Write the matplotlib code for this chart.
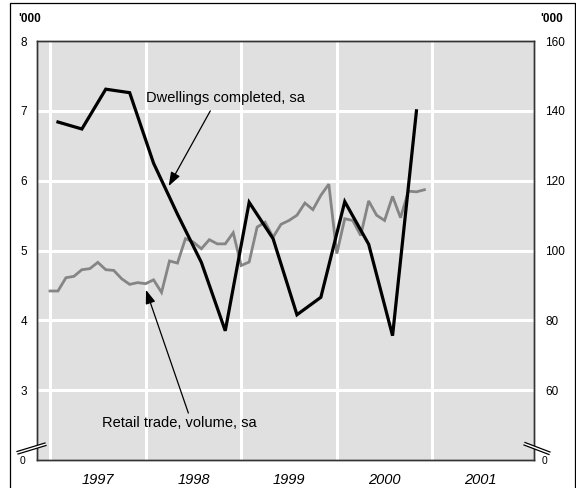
import numpy as np
import pandas as pd
import matplotlib
matplotlib.use('Agg')
import matplotlib.pyplot as plt
from matplotlib.lines import Line2D
from matplotlib.patches import Polygon

plt.rcParams['font.family'] = ['Liberation Sans', 'DejaVu Sans']

# Dwellings completed, sa ('000, quarterly, left axis)
dwell_dates = pd.date_range('1997-02-01', periods=16, freq='3MS')
dwellings = [6.84, 6.74, 7.31, 7.26, 6.25, 5.52, 4.83, 3.85,
             5.69, 5.17, 4.08, 4.33, 5.70, 5.09, 3.78, 7.00]

# Retail trade, volume, sa (monthly, right axis)
retail_dates = pd.date_range('1997-01-01', periods=48, freq='MS')
retail = [88.4, 88.4, 92.2, 92.6, 94.5, 94.8, 96.6, 94.5, 94.3, 91.9, 90.3, 90.8,
          90.5, 91.6, 88.0, 97.0, 96.4, 103.4, 102.4, 100.5, 103.1, 101.9, 101.9, 105.1,
          95.7, 96.7, 106.7, 108.1, 103.8, 107.5, 108.6, 110.1, 113.6, 111.7, 115.8, 119.0,
          99.1, 109.1, 108.6, 104.3, 114.2, 110.1, 108.6, 115.5, 109.4, 117.0, 116.8, 117.4]

years = [1997, 1998, 1999, 2000, 2001]
left_ticks = [3, 4, 5, 6, 7, 8]
right_ticks = [60, 80, 100, 120, 140, 160]


def to_year(dates):
    return np.array([d.year + (d.month - 1) / 12 for d in dates])


W, H = 576, 488


def fx(x, y):
    return (x / W, 1 - y / H)


fig = plt.figure(figsize=(5.76, 4.88), dpi=100)
ax = fig.add_axes([37 / W, 1 - 460 / H, (534 - 37) / W, (460 - 41) / H])
ax.set_xlim(1996.864, 2002.063)
ax.set_ylim(2, 8)

# right axis sits underneath: it carries the grey background, grid and retail line
ax2 = ax.twinx()
ax2.set_ylim(40, 160)
ax2.set_zorder(0)
ax.set_zorder(1)
ax.patch.set_visible(False)
ax2.patch.set_visible(True)
ax2.patch.set_facecolor('#e0e0e0')

for y in right_ticks[:-1]:
    ax2.axhline(y, color='white', lw=2.2, zorder=1)
for yr in years:
    ax2.axvline(yr, color='white', lw=2.2, zorder=1)

ax2.plot(to_year(retail_dates), retail, color='#858585', lw=2.0,
         solid_joinstyle='miter', zorder=3)
ax.plot(to_year(dwell_dates), dwellings, color='black', lw=2.3,
        solid_joinstyle='miter', zorder=4)

ax.set_yticks(left_ticks)
ax.set_yticklabels([str(v) for v in left_ticks], fontsize=8.5)
ax2.set_yticks(right_ticks)
ax2.set_yticklabels([str(v) for v in right_ticks], fontsize=8.5)
ax.tick_params(axis='y', length=0, pad=7)
ax2.tick_params(axis='y', length=0, pad=8)

ax.set_xticks(years)
ax.set_xticklabels([])
ax.set_xticks([y + 0.5 for y in years], minor=True)
ax.set_xticklabels([str(y) for y in years], minor=True, fontsize=10.5, style='italic')
ax.tick_params(axis='x', which='both', length=0, pad=9)

for a in (ax, ax2):
    for s in a.spines.values():
        s.set_color('#333333')
        s.set_linewidth(1.0)

# annotations
ax.text(1998.004, 7.187, 'Dwellings completed, sa', fontsize=10.5, ha='left', va='center')
ax.annotate('', xy=(1998.227, 5.887), xytext=(1998.691, 7.034),
            arrowprops=dict(arrowstyle='-|>,head_length=0.7,head_width=0.25',
                            color='black', lw=0.9, mutation_scale=12))
ax.text(1997.541, 2.524, 'Retail trade, volume, sa', fontsize=10.5, ha='left', va='center')
ax.annotate('', xy=(1997.994, 4.475), xytext=(1998.457, 2.634),
            arrowprops=dict(arrowstyle='-|>,head_length=0.7,head_width=0.25',
                            color='black', lw=0.9, mutation_scale=12))

# units
fig.text(*fx(18, 19), "'000", fontsize=8.5, fontweight='bold', ha='left', va='center')
fig.text(*fx(540, 19), "'000", fontsize=8.5, fontweight='bold', ha='left', va='center')
fig.text(*fx(23, 461), '0', fontsize=7.5, ha='center', va='center')
fig.text(*fx(544, 461), '0', fontsize=7.5, ha='center', va='center')

# axis break marks
for (p1, p2, p3, p4) in [((17, 451.5), (45, 443), (46, 445.5), (18, 454)),
                         ((525, 442.5), (550, 452), (549, 454.5), (524, 445))]:
    fig.add_artist(Polygon([fx(*p1), fx(*p2), fx(*p3), fx(*p4)], closed=True,
                           facecolor='white', edgecolor='none', zorder=5))
    fig.add_artist(Line2D([fx(*p1)[0], fx(*p2)[0]], [fx(*p1)[1], fx(*p2)[1]],
                          color='black', lw=0.9, zorder=6))
    fig.add_artist(Line2D([fx(*p4)[0], fx(*p3)[0]], [fx(*p4)[1], fx(*p3)[1]],
                          color='black', lw=0.9, zorder=6))

# outer frame
fig.add_artist(Line2D([10 / W, 10 / W, 575 / W, 575 / W],
                      [0, 1 - 2.5 / H, 1 - 2.5 / H, 0], color='black', lw=0.9))

fig.savefig('out.png', dpi=100)
